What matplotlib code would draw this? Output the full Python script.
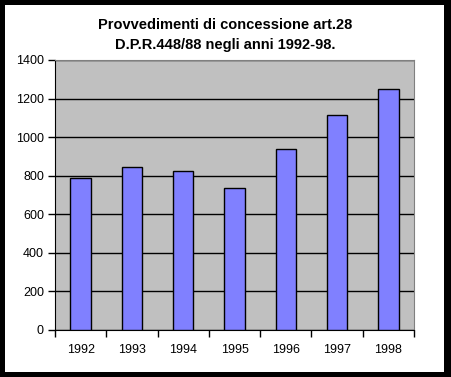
import numpy as np
import matplotlib.pyplot as plt
from matplotlib.patches import Rectangle

# Data
years = ['1992', '1993', '1994', '1995', '1996', '1997', '1998']
provvedimenti = [790, 845, 825, 738, 940, 1115, 1250]
y_ticks = [0, 200, 400, 600, 800, 1000, 1200, 1400]

plt.rcParams['font.family'] = ['Liberation Sans', 'DejaVu Sans']

fig = plt.figure(figsize=(4.51, 3.77), dpi=100)
fig.patch.set_facecolor('black')
# white chart area inside black frame
fig.patches.append(Rectangle((5 / 451, 5 / 377), 439 / 451, 367 / 377,
                             transform=fig.transFigure, facecolor='white',
                             edgecolor='none', zorder=-5))

ax = fig.add_axes([55 / 451, 1 - 330 / 377, 359 / 451, 270 / 377])
ax.set_facecolor('#C0C0C0')

x = np.arange(len(years))
ax.bar(x, provvedimenti, width=0.4, color='#8080FF', edgecolor='black',
       linewidth=1, zorder=3)

ax.set_xlim(-0.5, len(years) - 0.5)
ax.set_ylim(0, 1400)
ax.set_yticks(y_ticks)
ax.set_yticklabels([str(v) for v in y_ticks], fontsize=9)
ax.yaxis.grid(True, color='black', linewidth=1, zorder=1)
ax.set_axisbelow(True)

# category labels centred, ticks between categories
ax.set_xticks(x)
ax.set_xticklabels(years, fontsize=9)
ax.tick_params(axis='x', which='major', length=0, pad=10)
ax.set_xticks(np.arange(-0.5, len(years)), minor=True)
ax.tick_params(axis='x', which='minor', length=5, width=1, color='black')
ax.tick_params(axis='y', length=5, width=1, color='black', pad=3)

for side in ['top', 'right']:
    ax.spines[side].set_color('#808080')
ax.spines['left'].set_color('black')
ax.spines['bottom'].set_color('black')

fig.text(225 / 451, 1 - 35 / 377,
         'Provvedimenti di concessione art.28\nD.P.R.448/88 negli anni 1992-98.',
         ha='center', va='center', fontsize=10.5, fontweight='bold',
         linespacing=1.6)

fig.savefig('out.png', dpi=100, facecolor=fig.get_facecolor())
